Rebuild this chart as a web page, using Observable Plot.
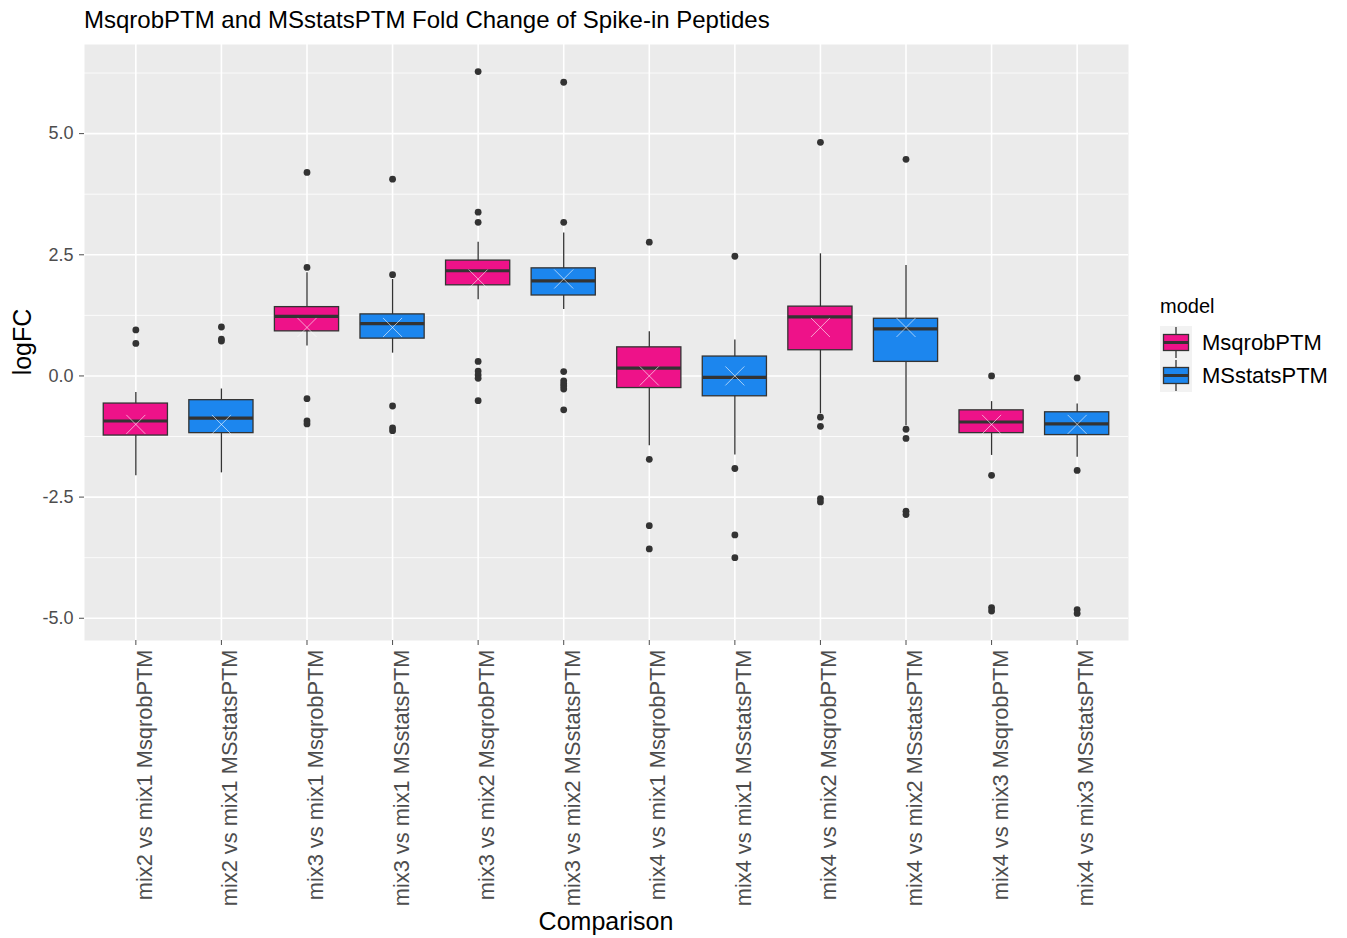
<!DOCTYPE html>
<html>
<head>
<meta charset="utf-8">
<script src="https://cdn.jsdelivr.net/npm/d3@7"></script>
<script src="https://cdn.jsdelivr.net/npm/@observablehq/plot@0.6"></script>
<style>
  body { margin: 0; background: #fff; font-family: "Liberation Sans", Arial, sans-serif; }
  #wrap { position: relative; width: 1347px; height: 938px; overflow: hidden; }
  #title { position: absolute; left: 84px; top: 0; height: 40px; line-height: 40px; font-size: 24px; color: #000; white-space: nowrap; }
  #chart { position: absolute; left: 0; top: 40px; }
  .axis-title { position: absolute; font-size: 25px; color: #000; text-align: center; white-space: nowrap; }
  #xtitle { left: 84px; width: 1044px; top: 906px; height: 30px; line-height: 30px; }
  #ytitle { left: -78px; width: 200px; top: 327px; height: 30px; line-height: 30px; transform: rotate(-90deg); }
  #legend { position: absolute; left: 1160px; top: 292px; }
  #legend .ltitle { font-size: 20px; height: 28px; line-height: 28px; color: #000; margin-bottom: 6px; }
  #legend .row { display: flex; align-items: center; height: 33px; }
  #legend .row span { font-size: 22px; margin-left: 10px; color: #000; }
</style>
</head>
<body>
<div id="wrap">
  <div id="title">MsqrobPTM and MSstatsPTM Fold Change of Spike-in Peptides</div>
  <div id="chart"></div>
  <div id="xtitle" class="axis-title">Comparison</div>
  <div id="ytitle" class="axis-title">logFC</div>
  <div id="legend"></div>
</div>
<script>
// Comparisons and models, one box per (comparison, model)
const comparisons = ["mix2 vs mix1", "mix3 vs mix1", "mix3 vs mix2", "mix4 vs mix1", "mix4 vs mix2", "mix4 vs mix3"];
const models = ["MsqrobPTM", "MSstatsPTM"];
const modelColors = ["#EE1289", "#1C86EE"];

// Box statistics, in box order (each comparison: MsqrobPTM, then MSstatsPTM)
const whiskerLow  = [-2.06, -2.00, 0.62, 0.47, 1.57, 1.37, -1.44, -1.63, -0.78, -1.03, -1.64, -1.68];
const lowerQuart  = [-1.23, -1.18, 0.92, 0.77, 1.87, 1.66, -0.25, -0.42, 0.53, 0.29, -1.18, -1.22];
const medians     = [-0.93, -0.87, 1.23, 1.08, 2.17, 1.96, 0.16, -0.03, 1.22, 0.97, -0.95, -0.99];
const upperQuart  = [-0.57, -0.50, 1.42, 1.27, 2.38, 2.22, 0.59, 0.40, 1.43, 1.18, -0.71, -0.75];
const whiskerHigh = [-0.34, -0.27, 2.13, 1.99, 2.76, 2.95, 0.91, 0.74, 2.52, 2.28, -0.53, -0.58];
// Expected log fold change of the spike-in
const expectedFC  = [-1, -1, 1, 1, 2, 2, 0, 0, 1, 1, -1, -1];
// Outlying peptides per box
const outlierValues = [
  [0.95, 0.67],
  [1.01, 0.76, 0.72],
  [4.20, 2.24, -0.47, -0.93, -0.99],
  [4.06, 2.09, -0.62, -1.07, -1.13],
  [6.28, 3.38, 3.17, 0.30, 0.10, 0.02, -0.05, -0.51],
  [6.06, 3.17, 0.09, -0.10, -0.16, -0.21, -0.27, -0.70],
  [2.76, -1.72, -3.09, -3.57],
  [2.47, -1.91, -3.28, -3.75],
  [4.82, -0.85, -1.04, -2.53, -2.60],
  [4.47, -1.10, -1.29, -2.79, -2.86],
  [0.00, -2.05, -4.78, -4.85],
  [-0.04, -1.95, -4.82, -4.90]
];

const majorTicks = [-5, -2.5, 0, 2.5, 5];
const minorTicks = [-3.75, -1.25, 1.25, 3.75, 6.25];

// Build the box table
const boxes = [];
comparisons.forEach((c, ci) => {
  models.forEach((m, mi) => {
    const i = ci * 2 + mi;
    boxes.push({
      label: `${c} ${m}`, model: m,
      lo: whiskerLow[i], q1: lowerQuart[i], med: medians[i], q3: upperQuart[i], hi: whiskerHigh[i],
      truth: expectedFC[i]
    });
  });
});
const labels = boxes.map(d => d.label);
const outliers = boxes.flatMap((b, i) => outlierValues[i].map(v => ({label: b.label, value: v})));

// y domain with 5% expansion on each side
const allVals = outliers.map(d => d.value).concat(whiskerLow, whiskerHigh);
const [vmin, vmax] = d3.extent(allVals);
const pad = (vmax - vmin) * 0.05;

const ink = "#333333";

const chart = Plot.plot({
  width: 1347,
  height: 898,
  marginTop: 4,
  marginBottom: 298,
  marginLeft: 84,
  marginRight: 219,
  style: {fontFamily: "'Liberation Sans', Arial, sans-serif", background: "transparent"},
  x: {type: "band", domain: labels, paddingInner: 0.25, paddingOuter: 0.225, round: false},
  y: {domain: [vmin - pad, vmax + pad]},
  color: {domain: models, range: modelColors},
  marks: [
    Plot.frame({fill: "#EBEBEB"}),
    Plot.ruleY(minorTicks.filter(t => t >= vmin - pad && t <= vmax + pad), {stroke: "white", strokeWidth: 0.8}),
    Plot.ruleY(majorTicks, {stroke: "white", strokeWidth: 1.6}),
    Plot.ruleX(labels, {stroke: "white", strokeWidth: 1.6}),
    Plot.ruleX(boxes, {x: "label", y1: "lo", y2: "hi", stroke: ink, strokeWidth: 1.3}),
    Plot.barY(boxes, {x: "label", y1: "q1", y2: "q3", fill: "model", stroke: ink, strokeWidth: 1.3}),
    Plot.tickY(boxes, {x: "label", y: "med", stroke: ink, strokeWidth: 3.2}),
    Plot.dot(outliers, {x: "label", y: "value", r: 3.4, fill: ink}),
    Plot.dot(boxes, {x: "label", y: "truth", symbol: "times", r: 8.7, stroke: "white", strokeWidth: 1, strokeOpacity: 0.6}),
    Plot.axisY({ticks: majorTicks, tickFormat: d => d.toFixed(1), fontSize: 18, tickSize: 5, tickPadding: 6, color: "#4D4D4D", label: null}),
    // tick marks only
    Plot.axisX({tickSize: 5, tickFormat: () => "", color: "#4D4D4D", label: null}),
    // rotated category labels, sitting just right of each tick
    Plot.axisX({tickRotate: -90, fontSize: 21.8, tickSize: 0, tickPadding: 9, dx: 9, color: "#4D4D4D", label: null})
  ]
});
document.getElementById("chart").appendChild(chart);

// Legend with boxplot keys
const legend = d3.select("#legend");
legend.append("div").attr("class", "ltitle").text("model");
models.forEach((m, i) => {
  const row = legend.append("div").attr("class", "row");
  const svg = row.append("svg").attr("width", 32).attr("height", 33);
  svg.append("rect").attr("width", 32).attr("height", 33).attr("fill", "#F2F2F2");
  svg.append("line").attr("x1", 16).attr("x2", 16).attr("y1", 1).attr("y2", 32).attr("stroke", ink).attr("stroke-width", 1.3);
  svg.append("rect").attr("x", 3.5).attr("y", 8.5).attr("width", 25).attr("height", 16)
    .attr("fill", modelColors[i]).attr("stroke", ink).attr("stroke-width", 1.3);
  svg.append("line").attr("x1", 3.5).attr("x2", 28.5).attr("y1", 16.5).attr("y2", 16.5).attr("stroke", ink).attr("stroke-width", 3);
  row.append("span").text(m);
});
</script>
</body>
</html>
